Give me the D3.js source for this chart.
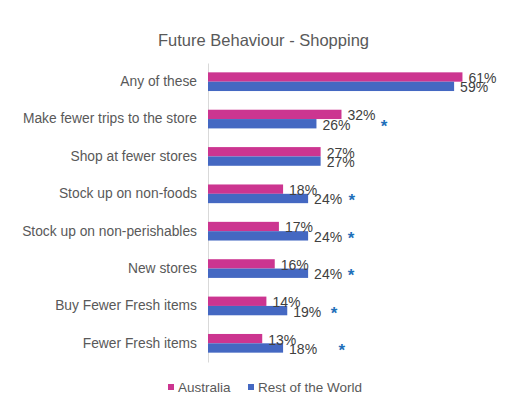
<!DOCTYPE html>
<html>
<head>
<meta charset="utf-8">
<script src="https://cdn.jsdelivr.net/npm/d3@7"></script>
<style>
  body { margin: 0; background: #fff; }
  svg text { font-family: "Liberation Sans", Arial, sans-serif; }
</style>
</head>
<body>
<div id="chart"></div>
<script>
// Data
const categories = [
    "Any of these",
    "Make fewer trips to the store",
    "Shop at fewer stores",
    "Stock up on non-foods",
    "Stock up on non-perishables",
    "New stores",
    "Buy Fewer Fresh items",
    "Fewer Fresh items"
];
const seriesNames = ["Australia", "Rest of the World"];
const australia = [0.61, 0.32, 0.27, 0.18, 0.17, 0.16, 0.14, 0.13];
const restOfWorld = [0.59, 0.26, 0.27, 0.24, 0.24, 0.24, 0.19, 0.18];
// significance marker, placed at this value along the x axis (null = none)
const sigAt = [null, 0.422, null, 0.345, 0.343, 0.343, 0.302, 0.321];

const config = {
    width: 518,
    height: 409,
    plotLeft: 208,
    plotRight: 500,
    plotTop: 63,
    plotBottom: 362,
    colors: ["#CC3590", "#4468C2"],
    sigColor: "#1F70BA",
    textColor: "#595959",
    labelColor: "#404040"
};

const rows = categories.map((c, i) => ({
    category: c,
    values: [australia[i], restOfWorld[i]],
    sig: sigAt[i]
}));

const svg = d3.select("#chart")
    .append("svg")
    .attr("width", config.width)
    .attr("height", config.height);

// Scales

const x = d3.scaleLinear()
    .domain([0, 0.70])
    .range([config.plotLeft, config.plotRight]);

const y = d3.scaleBand()
    .domain(categories)
    .range([config.plotTop, config.plotBottom])
    .padding(0);

const ySub = d3.scaleBand()
    .domain(seriesNames)
    .range([0, y.bandwidth()])
    .paddingInner(0)
    .paddingOuter(1);

const color = d3.scaleOrdinal().domain(seriesNames).range(config.colors);

// Title

svg.append("text")
    .attr("x", 263.5)
    .attr("y", 46)
    .attr("text-anchor", "middle")
    .attr("font-size", "16.5px")
    .attr("fill", config.textColor)
    .text("Future Behaviour - Shopping");

// Category axis

const yAxis = svg.append("g")
    .attr("transform", `translate(${config.plotLeft},0)`)
    .call(d3.axisLeft(y).tickSize(0).tickPadding(11));

yAxis.select(".domain").attr("stroke", "#D9D9D9");
yAxis.selectAll("text")
    .attr("font-size", "13.8px")
    .attr("fill", config.textColor)
    .attr("font-family", "Liberation Sans, Arial, sans-serif");

// Bars

const groups = svg.selectAll("g.row")
    .data(rows)
    .join("g")
    .attr("class", "row")
    .attr("transform", d => `translate(0,${y(d.category)})`);

const cells = d => d.values.map((v, j) => ({ name: seriesNames[j], value: v }));

groups.selectAll("rect.bar")
    .data(cells)
    .join("rect")
    .attr("class", "bar")
    .attr("x", x(0))
    .attr("y", d => ySub(d.name))
    .attr("width", d => x(d.value) - x(0))
    .attr("height", ySub.bandwidth())
    .attr("fill", d => color(d.name));

groups.selectAll("text.value")
    .data(cells)
    .join("text")
    .attr("class", "value")
    .attr("x", d => x(d.value) + 6)
    .attr("y", d => ySub(d.name) + ySub.bandwidth() / 2 + 1)
    .attr("dy", "0.35em")
    .attr("font-size", "14px")
    .attr("fill", config.labelColor)
    .text(d => d3.format(".0%")(d.value));

groups.filter(d => d.sig !== null)
    .append("text")
    .attr("class", "sig")
    .attr("x", d => x(d.sig))
    .attr("y", ySub(seriesNames[1]) + ySub.bandwidth() / 2 + 8)
    .attr("text-anchor", "middle")
    .attr("font-size", "17px")
    .attr("font-weight", "bold")
    .attr("fill", config.sigColor)
    .text("*");

// Legend

const legend = svg.append("g")
    .selectAll("g")
    .data(seriesNames)
    .join("g")
    .attr("transform", (d, i) => `translate(${[168, 248][i]},384)`);

legend.append("rect")
    .attr("width", 6)
    .attr("height", 6)
    .attr("fill", d => color(d));

legend.append("text")
    .attr("x", 10)
    .attr("y", 8)
    .attr("font-size", "13.5px")
    .attr("fill", config.textColor)
    .text(d => d);
</script>
</body>
</html>
